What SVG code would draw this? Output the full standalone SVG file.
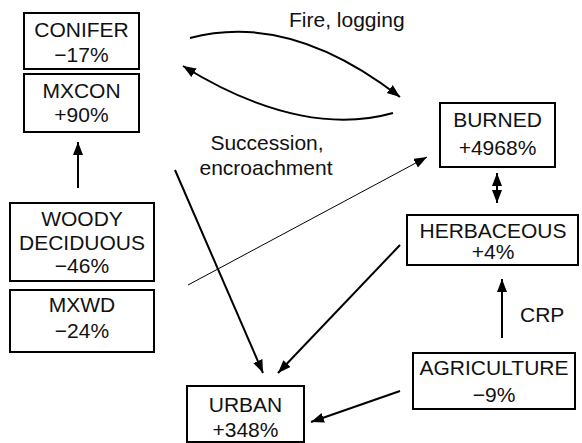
<svg xmlns="http://www.w3.org/2000/svg" width="582" height="443" viewBox="0 0 582 443">
<style>
  .box { fill: #fff; stroke: #000; stroke-width: 2; }
  text { font-family: "Liberation Sans", Arial, Helvetica, sans-serif; font-size: 21px; fill: #111; }
  .c { text-anchor: middle; }
  .edge { fill: none; stroke: #000; stroke-width: 2; }
  .thin { fill: none; stroke: #000; stroke-width: 1; }
</style>
<defs>
  <marker id="ah" markerUnits="userSpaceOnUse" markerWidth="14" markerHeight="12" refX="13" refY="5" orient="auto-start-reverse">
    <path d="M0,0 L13,5 L0,10 z" fill="#000"/>
  </marker>
</defs>

<g id="conifer">
  <rect class="box" x="24" y="13" width="115" height="56"/>
  <text class="c" x="81.5" y="37">CONIFER</text>
  <text class="c" x="81.5" y="62">−17%</text>
</g>
<g id="mxcon">
  <rect class="box" x="24" y="74" width="115" height="58"/>
  <text class="c" x="81.5" y="98">MXCON</text>
  <text class="c" x="81.5" y="122">+90%</text>
</g>
<g id="woody">
  <rect class="box" x="10" y="203" width="144" height="78"/>
  <text class="c" x="82" y="226">WOODY</text>
  <text class="c" x="82" y="250">DECIDUOUS</text>
  <text class="c" x="82" y="273">−46%</text>
</g>
<g id="mxwd">
  <rect class="box" x="10" y="290" width="144" height="62"/>
  <text class="c" x="82" y="312">MXWD</text>
  <text class="c" x="82" y="338">−24%</text>
</g>
<g id="burned">
  <rect class="box" x="440" y="103" width="115" height="64"/>
  <text class="c" x="497.5" y="127">BURNED</text>
  <text class="c" x="497.5" y="155">+4968%</text>
</g>
<g id="herbaceous">
  <rect class="box" x="407" y="215" width="171" height="50"/>
  <text class="c" x="493" y="238">HERBACEOUS</text>
  <text class="c" x="493" y="259">+4%</text>
</g>
<g id="agriculture">
  <rect class="box" x="413" y="353" width="162" height="56"/>
  <text class="c" x="494" y="375">AGRICULTURE</text>
  <text class="c" x="494" y="402">−9%</text>
</g>
<g id="urban">
  <rect class="box" x="187" y="386" width="117" height="56"/>
  <text class="c" x="245.5" y="412">URBAN</text>
  <text class="c" x="245.5" y="437">+348%</text>
</g>

<g id="connectors">
  <path class="edge" d="M190,38 C250,22 320,35 400,97" marker-end="url(#ah)"/>
  <path class="edge" d="M393,113 C340,128 270,120 183,66" marker-end="url(#ah)"/>
  <path class="edge" d="M78,188 L78,142" marker-end="url(#ah)"/>
  <path class="thin" d="M188,285 L427,157" marker-end="url(#ah)"/>
  <path class="edge" d="M497,173 L497,203" marker-start="url(#ah)" marker-end="url(#ah)"/>
  <path class="edge" d="M175,170 L263,373" marker-end="url(#ah)"/>
  <path class="edge" d="M400,245 L278,373" marker-end="url(#ah)"/>
  <path class="edge" d="M400,391 L311,422" marker-end="url(#ah)"/>
  <path class="edge" d="M502,338 L502,279" marker-end="url(#ah)"/>
</g>

<g id="labels">
  <text x="289" y="27">Fire, logging</text>
  <text class="c" x="267" y="150">Succession,</text>
  <text class="c" x="266" y="175">encroachment</text>
  <text x="520" y="322">CRP</text>
</g>
</svg>
